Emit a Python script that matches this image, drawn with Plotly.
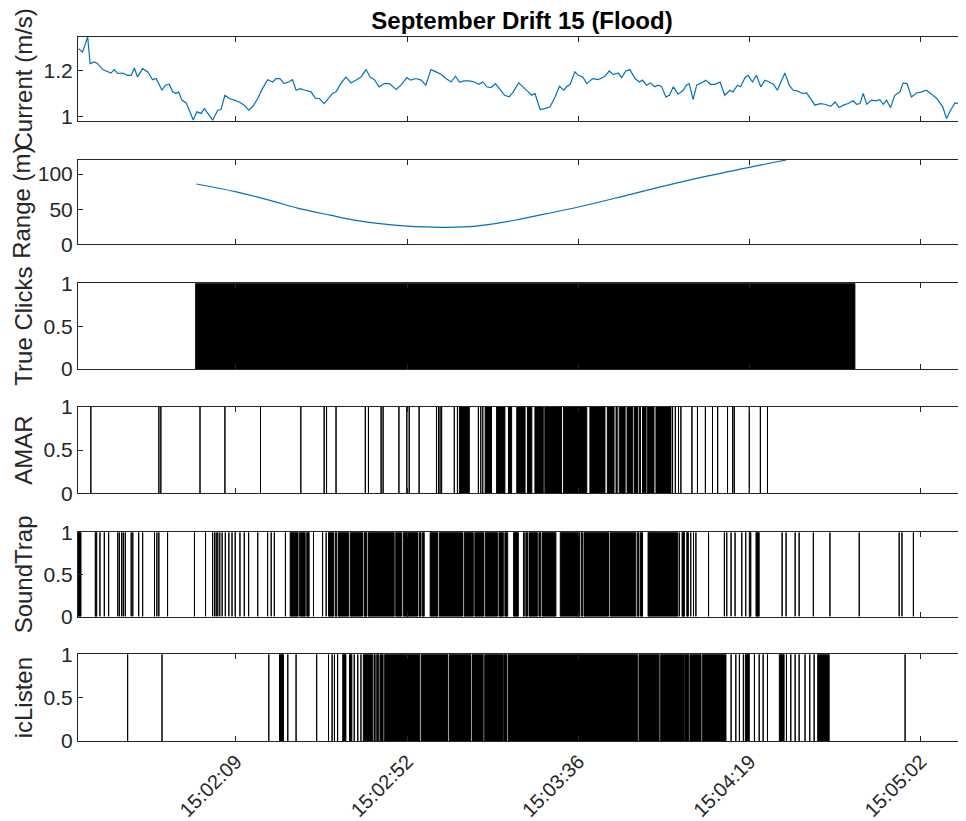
import plotly.graph_objects as go
from plotly.subplots import make_subplots

# ---------------- data (time = seconds after 15:00:00) ----------------
current_t = [89.2, 90.2, 91.5, 92.1, 93.2, 94.0, 95.3, 96.6, 97.4, 98.2, 99.1, 100.3, 101.6, 102.5,
             103.3, 104.1, 105.4, 106.7, 107.9, 108.8, 109.4, 110.3, 111.1, 112.1, 113.0, 113.8,
             114.5, 115.3, 116.4, 117.2, 118.2, 119.1, 120.2, 121.0, 121.8, 123.1, 124.4, 125.2,
             126.2, 127.3, 128.6, 129.8, 131.1, 132.2, 133.2, 134.5, 135.7, 137.0, 138.3, 139.1,
             140.1, 141.2, 142.3, 143.3, 144.2, 145.2, 146.5, 148.0, 149.1, 150.1, 151.3, 152.4,
             153.4, 154.3, 155.5, 156.8, 158.1, 159.3, 160.6, 161.9, 162.9, 164.0, 165.2, 166.5,
             167.8, 169.5, 170.7, 172.2, 173.2, 174.5, 175.8, 177.0, 178.3, 179.6, 180.8, 182.1,
             183.4, 184.5, 185.5, 186.7, 188.0, 189.3, 190.4, 191.4, 192.4, 193.5, 194.6, 195.8,
             196.9, 198.1, 199.1, 200.5, 201.6, 202.9, 203.8, 204.6, 205.9, 207.1, 208.4, 209.7,
             210.8, 211.9, 212.6, 213.5, 214.7, 215.6, 216.7, 217.7, 219.2, 220.6, 222.3, 223.4,
             224.4, 225.7, 226.5, 227.6, 228.6, 229.9, 231.0, 231.8, 232.8, 233.8, 234.9, 235.8,
             236.6, 237.7, 238.6, 239.6, 240.8, 242.1, 242.9, 243.6, 244.6, 245.5, 246.7, 247.8,
             249.0, 250.1, 251.4, 252.6, 253.9, 254.7, 255.8, 256.6, 257.7, 258.5, 259.6, 260.6,
             261.7, 262.8, 263.8, 264.9, 265.9, 266.7, 267.8, 268.9, 269.9, 270.9, 272.3, 273.3,
             274.3, 275.4, 276.7, 277.9, 279.4, 280.5, 281.5, 282.6, 283.8, 285.1, 285.9, 286.8,
             287.6, 288.5, 289.7, 290.8, 291.8, 292.7, 293.5, 294.5, 295.6, 296.9, 297.7, 298.7,
             299.8, 301.1, 302.4, 303.6, 304.9, 306.2, 307.7, 308.7, 309.7, 310.8, 311.9, 312.9,
             313.6]
current_v = [1.294, 1.280, 1.345, 1.229, 1.236, 1.229, 1.203, 1.193, 1.188, 1.203, 1.186, 1.188,
             1.178, 1.178, 1.210, 1.171, 1.207, 1.193, 1.159, 1.164, 1.142, 1.113, 1.135, 1.139,
             1.106, 1.099, 1.106, 1.070, 1.058, 1.026, 0.983, 1.019, 1.012, 1.033, 1.012, 0.983,
             1.026, 1.029, 1.091, 1.077, 1.070, 1.062, 1.048, 1.026, 1.041, 1.077, 1.120, 1.159,
             1.149, 1.164, 1.164, 1.142, 1.149, 1.159, 1.113, 1.120, 1.113, 1.106, 1.077, 1.077,
             1.055, 1.077, 1.099, 1.106, 1.142, 1.171, 1.145, 1.157, 1.171, 1.203, 1.171, 1.159,
             1.128, 1.142, 1.142, 1.116, 1.135, 1.168, 1.157, 1.164, 1.157, 1.135, 1.203, 1.193,
             1.183, 1.164, 1.149, 1.174, 1.149, 1.154, 1.154, 1.149, 1.139, 1.149, 1.128, 1.125,
             1.142, 1.116, 1.091, 1.084, 1.106, 1.145, 1.125, 1.106, 1.091, 1.099, 1.029, 1.033,
             1.041, 1.084, 1.130, 1.113, 1.128, 1.139, 1.193, 1.178, 1.171, 1.142, 1.164, 1.159,
             1.174, 1.197, 1.181, 1.188, 1.168, 1.197, 1.203, 1.164, 1.149, 1.157, 1.135, 1.145,
             1.128, 1.135, 1.130, 1.084, 1.091, 1.128, 1.096, 1.113, 1.135, 1.142, 1.072, 1.135,
             1.145, 1.157, 1.139, 1.139, 1.149, 1.091, 1.113, 1.106, 1.135, 1.128, 1.168, 1.178,
             1.149, 1.178, 1.128, 1.157, 1.149, 1.139, 1.113, 1.142, 1.188, 1.135, 1.113, 1.110,
             1.099, 1.101, 1.077, 1.048, 1.055, 1.052, 1.043, 1.062, 1.038, 1.048, 1.055, 1.067,
             1.052, 1.055, 1.099, 1.052, 1.070, 1.067, 1.072, 1.052, 1.070, 1.038, 1.091, 1.106,
             1.145, 1.142, 1.084, 1.101, 1.106, 1.113, 1.096, 1.077, 1.041, 0.990, 1.026, 1.058,
             1.055, 1.070, 1.091, 1.091]

range_t = [119.0, 128.8, 137.6, 144.8, 152.8, 159.8, 165.4, 172.3, 177.5, 182.8, 189.8, 194.5,
           199.8, 207.0, 215.3, 224.8, 234.8, 246.4, 258.8, 268.2]
range_v = [85.8, 74.9, 62.5, 51.2, 41.5, 33.6, 29.5, 26.0, 24.8, 24.2, 26.0, 29.5,
           34.6, 43.0, 52.7, 65.5, 79.7, 95.0, 109.6, 120.0]

# detections: (start, end) in seconds; start == end is a single click line
true_clicks = [(118.8, 285.5)]

amar = [(92.3, 92.3), (109.5, 109.5), (110.0, 110.0), (119.9, 119.9), (126.2, 126.2),
        (135.2, 135.2), (145.4, 145.4), (151.3, 151.3), (151.9, 151.9), (154.3, 154.3),
        (161.7, 161.7), (162.5, 162.5), (165.7, 165.7), (166.2, 166.2), (170.2, 170.2),
        (172.2, 172.2), (172.8, 172.8), (175.3, 175.3), (179.7, 179.7), (180.2, 180.2),
        (180.6, 180.6), (181.0, 181.0), (184.2, 184.2), (185.0, 185.0), (185.5, 188.0),
        (190.3, 190.3), (190.9, 190.9), (191.4, 191.4), (192.0, 193.6), (194.9, 197.0),
        (197.9, 198.7), (200.0, 202.1), (202.7, 203.8), (204.6, 206.7), (207.1, 211.3),
        (211.8, 217.7), (218.5, 222.3), (222.9, 224.6), (225.1, 225.4), (225.9, 227.4),
        (227.9, 229.3), (229.7, 230.6), (231.0, 231.3), (231.8, 232.7), (233.1, 234.7),
        (235.2, 239.0), (239.4, 239.4), (240.1, 240.1), (240.9, 240.9), (241.5, 241.5),
        (244.3, 244.3), (245.7, 245.7), (247.7, 247.7), (249.5, 249.5), (250.8, 250.8),
        (253.3, 253.3), (254.6, 254.6), (255.0, 255.0), (258.8, 258.8), (261.6, 261.6),
        (263.4, 263.4)]

soundtrap = [(89.0, 89.8), (93.4, 93.8), (94.6, 94.6), (95.7, 95.7), (96.8, 96.8),
             (99.1, 99.1), (99.5, 99.5), (100.1, 100.1), (100.5, 100.5), (101.0, 101.0),
             (102.5, 102.5), (102.9, 102.9), (104.4, 104.4), (105.4, 105.4), (108.4, 108.4),
             (109.0, 109.0), (109.5, 109.5), (111.7, 111.7), (118.5, 118.5), (121.3, 121.3),
             (123.1, 123.1), (123.6, 123.6), (124.0, 124.0), (124.4, 124.4), (124.9, 124.9),
             (125.5, 125.5), (126.3, 126.3), (127.2, 127.2), (128.0, 128.0), (128.8, 128.8),
             (130.0, 130.0), (131.1, 131.1), (132.2, 132.2), (134.5, 134.5), (137.0, 137.0),
             (137.9, 137.9), (138.7, 138.7), (141.5, 141.5), (142.7, 144.7), (145.1, 146.5),
             (146.9, 147.5), (148.6, 148.6), (150.9, 150.9), (151.8, 151.8), (152.4, 153.7),
             (154.1, 154.5), (154.9, 157.5), (157.9, 161.0), (161.4, 162.1), (162.5, 169.0),
             (169.4, 170.9), (171.3, 174.9), (175.3, 175.8), (176.2, 176.6), (178.1, 180.0),
             (180.4, 186.3), (186.7, 189.0), (189.4, 191.6), (192.0, 195.1), (195.5, 196.6),
             (197.0, 197.7), (199.2, 200.4), (201.7, 201.9), (202.3, 202.7), (203.1, 205.2),
             (205.6, 206.1), (206.5, 209.9), (211.0, 215.9), (216.3, 216.6), (217.0, 223.2),
             (223.6, 230.1), (230.5, 230.9), (231.3, 231.8), (233.2, 240.7), (241.1, 241.1),
             (241.8, 242.4), (243.0, 243.4), (244.0, 244.0), (244.7, 244.7), (245.3, 245.3),
             (248.5, 248.5), (252.5, 252.5), (253.1, 253.1), (254.2, 254.2), (255.2, 255.2),
             (256.9, 256.9), (257.9, 257.9), (258.8, 259.2), (260.5, 261.3), (267.1, 267.1),
             (268.1, 268.1), (270.4, 270.4), (271.4, 271.4), (275.0, 275.0), (279.2, 279.2),
             (286.6, 286.6), (296.7, 296.7), (297.4, 297.4), (300.3, 300.3), (312.1, 312.6)]

iclisten = [(101.6, 101.6), (110.3, 110.3), (137.3, 137.3), (140.0, 141.0), (142.1, 142.1),
            (144.2, 144.2), (149.4, 149.4), (152.4, 152.4), (153.3, 153.3), (153.9, 153.9),
            (154.7, 154.7), (156.0, 156.8), (157.7, 158.3), (158.9, 158.9), (159.8, 159.8),
            (160.6, 160.6), (161.2, 163.5), (163.9, 164.2), (164.6, 165.0), (165.4, 166.2),
            (166.6, 175.5), (175.9, 182.5), (182.9, 188.4), (188.8, 191.5), (191.9, 196.6),
            (196.9, 197.4), (197.8, 230.5), (230.9, 236.0), (236.4, 242.3), (242.5, 243.5),
            (243.8, 246.6), (247.0, 252.9), (254.2, 254.2), (255.4, 255.4), (256.3, 256.3),
            (257.3, 257.3), (257.8, 258.8), (260.1, 260.1), (261.3, 261.3), (262.3, 262.3),
            (263.4, 263.4), (266.4, 267.6), (268.2, 268.2), (269.3, 269.3), (270.4, 270.4),
            (271.4, 271.4), (272.9, 272.9), (274.1, 274.1), (275.2, 275.2), (276.1, 279.0),
            (298.2, 298.2)]

tick_secs = [129.0, 172.3, 215.6, 258.9, 302.2]
tick_labels = ["15:02:09", "15:02:52", "15:03:36", "15:04:19", "15:05:02"]
x_range = [89.05, 313.6]

title_text = "September Drift 15 (Flood)"
y_titles = ["Current (m/s)", "Range (m)", "True Clicks", "AMAR", "SoundTrap", "icListen"]

# ---------------- figure ----------------
FONT = "Liberation Sans, Arial, Helvetica, sans-serif"
AX = "#262626"
BLUE = "#0072BD"
W, H = 958, 813   # page body adds an 8px offset; figure fills the rest of the window


def barcode_xy(events):
    xs, ys = [], []
    for s, e in events:
        xs += [s, s, e, e, s, None]
        ys += [0, 1, 1, 0, 0, None]
    return xs, ys


fig = make_subplots(rows=6, cols=1, shared_xaxes=True)

fig.add_trace(go.Scatter(x=current_t, y=current_v, mode="lines",
                         line=dict(color=BLUE, width=1.2), showlegend=False), row=1, col=1)
fig.add_trace(go.Scatter(x=range_t, y=range_v, mode="lines",
                         line=dict(color=BLUE, width=1.2, shape="spline"), showlegend=False),
              row=2, col=1)

for i, ev in enumerate([true_clicks, amar, soundtrap, iclisten]):
    xs, ys = barcode_xy(ev)
    fig.add_trace(go.Scatter(x=xs, y=ys, mode="lines", fill="toself", fillcolor="black",
                             line=dict(color="black", width=1), showlegend=False,
                             hoverinfo="skip"), row=3 + i, col=1)

domains = [[0.881, 1.0], [0.7055, 0.8253], [0.5284, 0.6501],
           [0.3518, 0.4749], [0.1768, 0.2964], [0.0, 0.1232]]
y_ranges = [[0.98, 1.345], [0, 120], [0, 1], [0, 1], [0, 1], [0, 1]]
y_ticks = [[1, 1.2], [0, 50, 100], [0, 0.5, 1], [0, 0.5, 1], [0, 0.5, 1], [0, 0.5, 1]]
y_ticktext = [["1", "1.2"], ["0", "50", "100"]] + [["0", "0.5", "1"]] * 4

for i in range(6):
    n = "" if i == 0 else str(i + 1)
    fig.layout["yaxis" + n].update(
        domain=domains[i], range=y_ranges[i], tickvals=y_ticks[i], ticktext=y_ticktext[i],
        ticks="inside", ticklen=5, tickcolor=AX, showline=True, linecolor=AX, linewidth=1,
        mirror="ticks", showgrid=False, zeroline=False, automargin=False,
        tickfont=dict(family=FONT, size=21, color=AX),
        title=dict(text=y_titles[i], font=dict(family=FONT, size=24, color=AX), standoff=4),
    )
    fig.layout["xaxis" + n].update(
        range=x_range, tickvals=tick_secs, ticktext=tick_labels, ticks="inside", ticklen=5,
        tickcolor=AX, showline=True, linecolor=AX, linewidth=1, mirror="ticks",
        showgrid=False, zeroline=False, showticklabels=(i == 5), tickangle=-45,
        automargin=False, tickfont=dict(family=FONT, size=20, color=AX),
    )

fig.update_layout(
    width=W, height=H,
    margin=dict(l=70, r=0, t=29, b=80, autoexpand=False),
    paper_bgcolor="white", plot_bgcolor="white",
    title=dict(text="<b>" + title_text + "</b>", x=0.5, xref="paper", xanchor="center",
               y=1 - 4 / H, yref="container", yanchor="top", automargin=False,
               font=dict(family=FONT, size=24, color="black")),
    showlegend=False,
)

fig.write_html("out.html")
